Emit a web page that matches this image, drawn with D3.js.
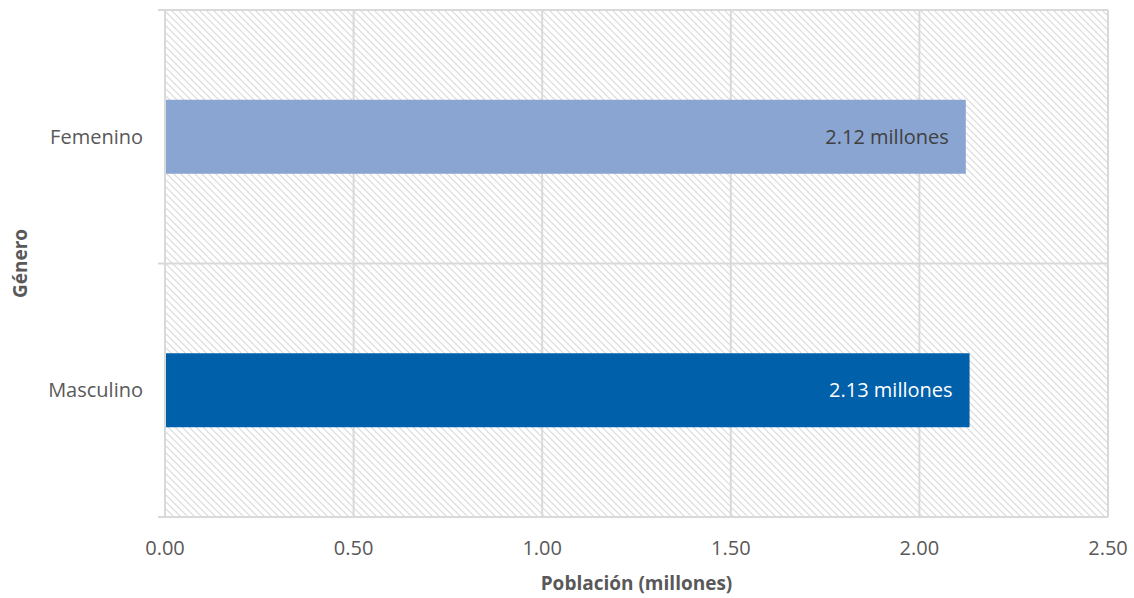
<!DOCTYPE html>
<html><head><meta charset="utf-8">
<script src="https://cdn.jsdelivr.net/npm/d3@7"></script>
<style>body{margin:0;background:#fff}svg{display:block}</style>
</head><body>
<svg id="c" width="1134" height="598"></svg>
<script>
const categories = ["Femenino", "Masculino"];
const values = [2.123, 2.133];
const valueLabels = ["2.12 millones", "2.13 millones"];
const xTicks = [0, 0.5, 1, 1.5, 2, 2.5];
const barColors = ["#8aa5d2", "#0060aa"];
const labelColors = ["#404040", "#ffffff"];

const svg = d3.select("#c");
const m = {left:165, right:1108, top:10, bottom:517};
const font = "'Open Sans', sans-serif";

const defs = svg.append("defs");
const P = 7;
const pat = defs.append("pattern").attr("id","hatch").attr("patternUnits","userSpaceOnUse")
  .attr("width",P).attr("height",P);
pat.append("rect").attr("width",P).attr("height",P).attr("fill","#fff");
pat.append("path").attr("d",`M-1,-1 L${P+1},${P+1} M${-P-1},-1 L1,${P+1} M${P-1},-1 L${2*P+1},${P+1}`)
  .attr("stroke","#dadada").attr("stroke-width",1.2);

const x = d3.scaleLinear().domain([0,2.5]).range([m.left,m.right]);
const y = d3.scaleBand().domain(categories).range([m.top,m.bottom]).paddingInner(0).paddingOuter(0);

svg.append("rect").attr("x",m.left).attr("y",m.top).attr("width",m.right-m.left).attr("height",m.bottom-m.top)
  .attr("fill","url(#hatch)");

// vertical gridlines
svg.append("g").selectAll("line").data(xTicks).join("line")
  .attr("x1",d=>x(d)).attr("x2",d=>x(d)).attr("y1",m.top).attr("y2",m.bottom)
  .attr("stroke","#d9d9d9").attr("stroke-width",2);
// horizontal category boundaries
const bounds = [m.top, y(categories[1]), m.bottom];
svg.append("g").selectAll("line").data(bounds).join("line")
  .attr("x1",158).attr("x2",m.right).attr("y1",d=>d).attr("y2",d=>d)
  .attr("stroke","#d9d9d9").attr("stroke-width",2);

// bars
const bh = 74;
svg.append("g").selectAll("rect").data(categories).join("rect")
  .attr("x",x(0)+1).attr("y",d=>y(d)+y.bandwidth()/2-bh/2)
  .attr("width",(d,i)=>x(values[i])-x(0)-1).attr("height",bh)
  .attr("fill",(d,i)=>barColors[i]);

svg.append("g").selectAll("text").data(categories).join("text")
  .attr("x",(d,i)=>x(values[i])-17).attr("y",d=>y(d)+y.bandwidth()/2+7)
  .attr("text-anchor","end").attr("font-family",font).attr("font-size",20)
  .attr("fill",(d,i)=>labelColors[i]).text((d,i)=>valueLabels[i]);

// y axis labels
svg.append("g").selectAll("text").data(categories).join("text")
  .attr("x",143).attr("y",d=>y(d)+y.bandwidth()/2+7)
  .attr("text-anchor","end").attr("font-family",font).attr("font-size",20)
  .attr("fill","#595959").text(d=>d);

// x tick labels
svg.append("g").selectAll("text").data(xTicks).join("text")
  .attr("x",d=>x(d)).attr("y",555)
  .attr("text-anchor","middle").attr("font-family",font).attr("font-size",20)
  .attr("fill","#595959").text(d=>d3.format(".2f")(d));

svg.append("text").attr("x",(m.left+m.right)/2).attr("y",590).attr("text-anchor","middle")
  .attr("font-family",font).attr("font-size",19).attr("font-weight","bold").attr("fill","#595959")
  .text("Población (millones)");
svg.append("text").attr("transform",`translate(27,${(m.top+m.bottom)/2}) rotate(-90)`).attr("text-anchor","middle")
  .attr("font-family",font).attr("font-size",19).attr("font-weight","bold").attr("fill","#595959")
  .text("Género");
</script>
</body></html>
